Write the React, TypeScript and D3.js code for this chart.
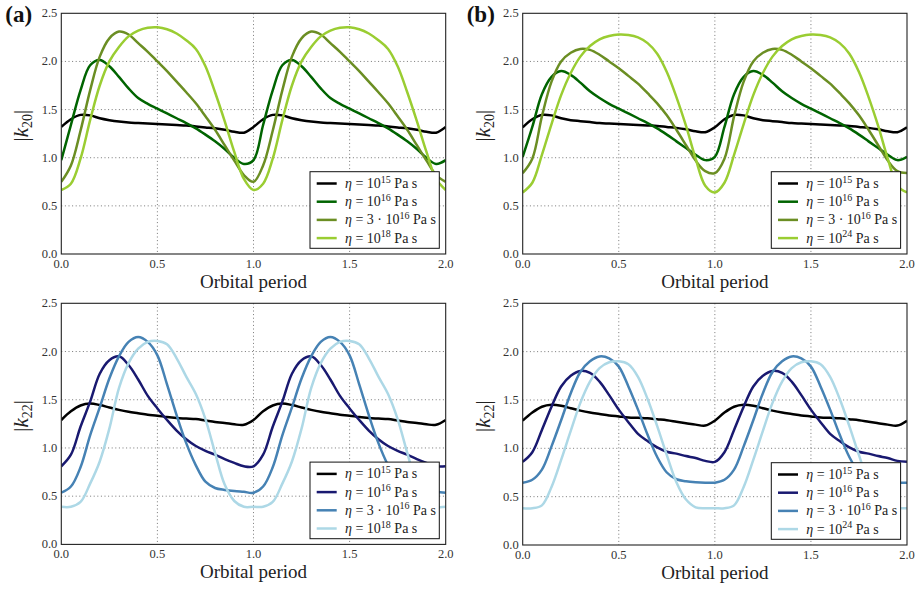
import React from "react";
import * as d3 from "d3";

// Phase within one orbital period (the pattern repeats each orbit)
const phases = [0, 0.05, 0.1, 0.15, 0.2, 0.25, 0.3, 0.35, 0.4, 0.45, 0.5, 0.55, 0.6, 0.65, 0.7, 0.75, 0.8, 0.85, 0.9, 0.95];
const orbits = [0, 1];
const xTicks = [0, 0.5, 1.0, 1.5, 2.0];
const yTicks = [0, 0.5, 1.0, 1.5, 2.0, 2.5];

// Panel (a) |k20|
const k20a_e15 = [1.32, 1.40, 1.445, 1.44, 1.41, 1.39, 1.375, 1.365, 1.36, 1.355, 1.35, 1.345, 1.34, 1.335, 1.325, 1.315, 1.305, 1.29, 1.27, 1.26];
const k20a_e16 = [0.975, 1.34, 1.70, 1.96, 2.015, 1.95, 1.84, 1.72, 1.62, 1.56, 1.51, 1.46, 1.41, 1.36, 1.305, 1.24, 1.17, 1.09, 1.00, 0.935];
const k20a_3e16 = [0.75, 0.92, 1.28, 1.70, 2.05, 2.24, 2.31, 2.28, 2.19, 2.10, 2.00, 1.90, 1.79, 1.68, 1.565, 1.43, 1.29, 1.13, 0.97, 0.82];
const k20a_e18 = [0.665, 0.73, 0.99, 1.39, 1.75, 2.00, 2.15, 2.26, 2.32, 2.35, 2.355, 2.335, 2.29, 2.22, 2.13, 1.95, 1.68, 1.38, 1.06, 0.78];

// Panel (b) |k20|
const k20b_e15 = [1.316, 1.40, 1.445, 1.44, 1.41, 1.39, 1.38, 1.37, 1.36, 1.355, 1.35, 1.345, 1.34, 1.335, 1.33, 1.32, 1.31, 1.295, 1.275, 1.265];
const k20b_e16 = [1.01, 1.32, 1.66, 1.84, 1.90, 1.86, 1.78, 1.69, 1.62, 1.56, 1.51, 1.46, 1.41, 1.36, 1.305, 1.24, 1.17, 1.10, 1.03, 0.975];
const k20b_3e16 = [0.84, 0.99, 1.43, 1.79, 2.00, 2.09, 2.13, 2.12, 2.07, 2.00, 1.93, 1.85, 1.77, 1.67, 1.565, 1.44, 1.29, 1.13, 0.97, 0.86];
const k20b_e24 = [0.64, 0.74, 1.03, 1.35, 1.65, 1.88, 2.05, 2.16, 2.23, 2.265, 2.28, 2.275, 2.25, 2.19, 2.08, 1.89, 1.63, 1.33, 0.99, 0.71];

// Panel (a) |k22|
const k22a_e15 = [1.29, 1.38, 1.44, 1.46, 1.445, 1.42, 1.395, 1.375, 1.36, 1.345, 1.335, 1.32, 1.31, 1.305, 1.30, 1.285, 1.27, 1.26, 1.245, 1.24];
const k22a_e16 = [0.81, 0.93, 1.22, 1.48, 1.77, 1.91, 1.95, 1.86, 1.71, 1.54, 1.41, 1.29, 1.18, 1.09, 1.02, 0.97, 0.93, 0.885, 0.845, 0.81];
const k22a_3e16 = [0.536, 0.60, 0.80, 1.13, 1.42, 1.72, 1.95, 2.10, 2.15, 2.10, 1.96, 1.66, 1.34, 1.05, 0.82, 0.65, 0.585, 0.565, 0.553, 0.545];
const k22a_e18 = [0.39, 0.39, 0.44, 0.63, 0.86, 1.20, 1.62, 1.88, 2.03, 2.10, 2.11, 2.075, 1.93, 1.74, 1.56, 1.30, 0.95, 0.62, 0.45, 0.39];

// Panel (b) |k22|
const k22b_e15 = [1.286, 1.37, 1.43, 1.45, 1.44, 1.415, 1.39, 1.37, 1.355, 1.34, 1.33, 1.32, 1.315, 1.31, 1.30, 1.29, 1.275, 1.26, 1.245, 1.235];
const k22b_e16 = [0.86, 0.96, 1.19, 1.43, 1.64, 1.75, 1.80, 1.78, 1.69, 1.55, 1.40, 1.27, 1.15, 1.075, 1.01, 0.965, 0.945, 0.92, 0.90, 0.87];
const k22b_3e16 = [0.645, 0.675, 0.78, 1.02, 1.29, 1.57, 1.79, 1.90, 1.95, 1.93, 1.845, 1.64, 1.40, 1.14, 0.91, 0.75, 0.68, 0.66, 0.65, 0.645];
const k22b_e24 = [0.38, 0.38, 0.41, 0.60, 0.88, 1.18, 1.47, 1.69, 1.83, 1.89, 1.90, 1.87, 1.74, 1.51, 1.23, 0.93, 0.65, 0.47, 0.39, 0.38];

const greens = ["#000000", "#006400", "#6b8e23", "#9acd32"];
const blues = ["#000000", "#191970", "#4682b4", "#add8e6"];

type Leg = { pre: string; exp: string };
const legA: Leg[] = [{ pre: "", exp: "15" }, { pre: "", exp: "16" }, { pre: "3 · ", exp: "16" }, { pre: "", exp: "18" }];
const legB: Leg[] = [{ pre: "", exp: "15" }, { pre: "", exp: "16" }, { pre: "3 · ", exp: "16" }, { pre: "", exp: "24" }];

const TNR = "'Liberation Serif', 'DejaVu Serif', serif";

function tile(vals: number[]): [number, number][] {
  const pts: [number, number][] = [];
  orbits.forEach((o) => phases.forEach((p, i) => pts.push([o + p, vals[i]])));
  pts.push([orbits.length, vals[0]]);
  return pts;
}

type PanelProps = {
  id: string;
  x0: number; x1: number; y0: number; y1: number;
  series: number[][]; colors: string[]; legend: Leg[];
  sub: string; tag?: string;
};

function Panel({ id, x0, x1, y0, y1, series, colors, legend, sub, tag }: PanelProps) {
  const x = d3.scaleLinear().domain([0, 2]).range([x0, x1]);
  const y = d3.scaleLinear().domain([0, 2.5]).range([y1, y0]);
  const line = d3.line<[number, number]>().x((d) => x(d[0])).y((d) => y(d[1])).curve(d3.curveCatmullRom.alpha(0.5));
  const lw = 129.3, lh = 76.6;
  const lx = x1 - 6.4 - lw, ly = y1 - 5.7 - lh;
  const cx = (x0 + x1) / 2;
  return (
    <g>
      <defs>
        <clipPath id={"clip" + id}>
          <rect x={x0} y={y0} width={x1 - x0} height={y1 - y0} />
        </clipPath>
      </defs>
      {xTicks.slice(1, -1).map((t) => (
        <line key={"gx" + t} x1={x(t)} x2={x(t)} y1={y0} y2={y1} stroke="#555" strokeWidth={0.8} strokeDasharray="1,2.6" />
      ))}
      {yTicks.slice(1, -1).map((t) => (
        <line key={"gy" + t} x1={x0} x2={x1} y1={y(t)} y2={y(t)} stroke="#555" strokeWidth={0.8} strokeDasharray="1,2.6" />
      ))}
      <g clipPath={`url(#clip${id})`}>
        {series.map((s, i) => (
          <path key={i} d={line(tile(s)) || ""} fill="none" stroke={colors[i]} strokeWidth={2.5} />
        ))}
      </g>
      <rect x={x0} y={y0} width={x1 - x0} height={y1 - y0} fill="none" stroke="#222" strokeWidth={1.1} />
      {xTicks.map((t) => (
        <text key={"xt" + t} x={x(t)} y={y1 + 14} textAnchor="middle" fontFamily={TNR} fontSize={12.5} fill="#333">
          {t.toFixed(1)}
        </text>
      ))}
      {yTicks.map((t) => (
        <text key={"yt" + t} x={x0 - 4} y={y(t) + 4} textAnchor="end" fontFamily={TNR} fontSize={12.5} fill="#333">
          {t.toFixed(1)}
        </text>
      ))}
      <text x={cx} y={y1 + 34} textAnchor="middle" fontFamily={TNR} fontSize={19} fill="#222">Orbital period</text>
      <text transform={`translate(${x0 - 33},${(y0 + y1) / 2 - 8}) rotate(-90)`} textAnchor="middle" fontFamily={TNR} fontSize={21} fill="#222">
        <tspan>|</tspan>
        <tspan fontStyle="italic">k</tspan>
        <tspan fontSize={14} dy={4}>{sub}</tspan>
        <tspan dy={-4}>|</tspan>
      </text>
      {tag && (
        <text x={x0 - 56} y={y0 + 9} fontFamily={TNR} fontWeight="bold" fontSize={23} fill="#111">{tag}</text>
      )}
      <rect x={lx} y={ly} width={lw} height={lh} fill="#fff" stroke="#111" strokeWidth={1} />
      {legend.map((l, i) => {
        const ry = ly + 11.8 + i * 18.2;
        return (
          <g key={"lg" + i}>
            <line x1={lx + 6.7} x2={lx + 26.7} y1={ry} y2={ry} stroke={colors[i]} strokeWidth={2.5} />
            <text x={lx + 35} y={ry + 4.5} fontFamily={TNR} fontSize={14} fill="#222">
              <tspan fontStyle="italic">η</tspan>
              <tspan> = {l.pre}10</tspan>
              <tspan fontSize={10} dy={-5.5}>{l.exp}</tspan>
              <tspan dy={5.5}> Pa s</tspan>
            </text>
          </g>
        );
      })}
    </g>
  );
}

export default function App() {
  return (
    <svg width={917} height={591} style={{ position: "absolute", left: 0, top: 0, background: "#fff" }}>
      <Panel id="ta" x0={61.3} x1={445.7} y0={13.3} y1={254} series={[k20a_e15, k20a_e16, k20a_3e16, k20a_e18]} colors={greens} legend={legA} sub="20" tag="(a)" />
      <Panel id="tb" x0={522.7} x1={907} y0={13.3} y1={254} series={[k20b_e15, k20b_e16, k20b_3e16, k20b_e24]} colors={greens} legend={legB} sub="20" tag="(b)" />
      <Panel id="ba" x0={61.3} x1={445.7} y0={303.3} y1={544.4} series={[k22a_e15, k22a_e16, k22a_3e16, k22a_e18]} colors={blues} legend={legA} sub="22" />
      <Panel id="bb" x0={522.7} x1={907} y0={303.3} y1={545} series={[k22b_e15, k22b_e16, k22b_3e16, k22b_e24]} colors={blues} legend={legB} sub="22" />
    </svg>
  );
}
